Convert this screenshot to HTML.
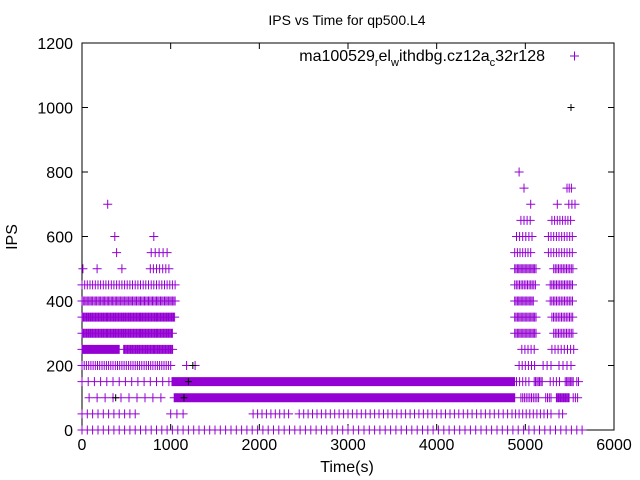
<!DOCTYPE html>
<html><head><meta charset="utf-8"><style>
body{margin:0;background:#fff}
svg{display:block;font-family:"Liberation Sans",sans-serif}
</style></head><body>
<svg id="chart" width="640" height="480" viewBox="0 0 640 480">
<rect x="0" y="0" width="640" height="480" fill="#fff"/>
<text x="347" y="25" font-size="14" text-anchor="middle">IPS vs Time for qp500.L4</text>
<text x="347" y="472" font-size="16" text-anchor="middle">Time(s)</text>
<text x="17" y="237" font-size="16" text-anchor="middle" transform="rotate(-90 17 237)">IPS</text>
<g id="axes"></g>
<g id="marks"></g>
<g>
<text x="545" y="61" font-size="16" text-anchor="end">ma100529<tspan font-size="11" dy="5">r</tspan><tspan dy="-5">el</tspan><tspan font-size="11" dy="5">w</tspan><tspan dy="-5">ithdbg.cz12a</tspan><tspan font-size="11" dy="5">c</tspan><tspan dy="-5">32r128</tspan></text>
<path d="M570 56h9M574.5 51.5v9" stroke="#9400d3" stroke-width="1"/>
</g>
</svg>
<script>
const xTicks=[0,1000,2000,3000,4000,5000,6000];
const yTicks=[0,200,400,600,800,1000,1200];
// per-level runs: [startTime, endTime, step]
const levels=[0,50,100,150,200,250,300,350,400,450,500,550,600,650,700,750,800];
const runs0=[[0,5650,60]];
const runs50=[[0,650,60],[1000,1200,70],[1930,2350,50],[2450,4850,50],[4850,5300,40],[5380,5450,40]];
const runs100=[[80,900,90],[1040,4885,8],[4950,5150,20],[5230,5300,20],[5350,5500,12],[5540,5600,25]];
const runs150=[[0,1000,70],[1015,4885,8],[4900,5050,35],[5100,5200,15],[5280,5400,35],[5450,5550,15],[5580,5600,20]];
const runs200=[[0,1000,25],[1180,1180,1],[1275,1275,1],[4930,5130,35],[5200,5330,45],[5380,5550,45]];
const runs250=[[0,420,10],[470,1030,12],[4960,5130,35],[5300,5550,35]];
const runs300=[[0,1030,12],[4880,5130,15],[5320,5550,18]];
const runs350=[[0,1050,12],[4880,5130,15],[5300,5550,18]];
const runs400=[[0,1050,15],[4880,5100,15],[5280,5540,18]];
const runs450=[[0,1050,30],[4880,5130,18],[5280,5540,18]];
const runs500=[[10,10,1],[170,170,1],[450,450,1],[770,1000,35],[4880,5130,15],[5320,5550,18]];
const runs550=[[390,390,1],[780,1000,45],[4880,5080,30],[5260,5550,30]];
const runs600=[[370,370,1],[810,810,1],[4900,5080,35],[5260,5550,30]];
const runs650=[[4950,5080,35],[5300,5530,30]];
const runs700=[[290,290,1],[5060,5060,1],[5360,5360,1],[5490,5560,35]];
const runs750=[[4985,4985,1],[5470,5520,25]];
const runs800=[[4930,4930,1]];
const levelRuns=[runs0,runs50,runs100,runs150,runs200,runs250,runs300,runs350,runs400,runs450,runs500,runs550,runs600,runs650,runs700,runs750,runs800];
const blackTimes=[5515,1200,1250,380,1150];
const blackValues=[1000,150,200,100,100];

const X0=82,X1=614,Y0=430,Y1=43;
const xs=t=>X0+(t/6000)*(X1-X0);
const ys=v=>Y0-(v/1200)*(Y0-Y1);
const NS="http://www.w3.org/2000/svg";
const axes=document.getElementById('axes');
const marks=document.getElementById('marks');

const frame=document.createElementNS(NS,'rect');
frame.setAttribute('x',X0);frame.setAttribute('y',Y1);
frame.setAttribute('width',X1-X0);frame.setAttribute('height',Y0-Y1);
frame.setAttribute('fill','none');frame.setAttribute('stroke','#000');


axes.appendChild(frame);

let td='';
xTicks.forEach(t=>{const x=xs(t);td+=`M${x} ${Y0}v-6M${x} ${Y1}v6`;
 const tx=document.createElementNS(NS,'text');
 tx.setAttribute('x',x);tx.setAttribute('y',Y0+20);tx.setAttribute('font-size','16');tx.setAttribute('text-anchor','middle');
 tx.textContent=t;
 
 
 axes.appendChild(tx);});
yTicks.forEach(v=>{const y=ys(v);td+=`M${X0} ${y}h6M${X1} ${y}h-6`;
 const tx=document.createElementNS(NS,'text');
 tx.setAttribute('x',X0-9);tx.setAttribute('y',y+6);tx.setAttribute('font-size','16');tx.setAttribute('text-anchor','end');
 tx.textContent=v;
 
 
 axes.appendChild(tx);});
const tp=document.createElementNS(NS,'path');
tp.setAttribute('d',td);tp.setAttribute('stroke','#000');tp.setAttribute('fill','none');


axes.appendChild(tp);

let d='';
levels.forEach((v,i)=>{const y=ys(v);
 levelRuns[i].forEach(r=>{for(let t=r[0];t<=r[1];t+=(r[2]||1)){const x=xs(t);d+=`M${(x-4.5).toFixed(1)} ${y.toFixed(1)}h9M${x.toFixed(1)} ${(y-4.5).toFixed(1)}v9`;}});});
const p=document.createElementNS(NS,'path');
p.setAttribute('d',d);p.setAttribute('stroke','#9400d3');p.setAttribute('fill','none');p.setAttribute('stroke-width','1');


marks.appendChild(p);

let bd='';
blackTimes.forEach((t,i)=>{const x=xs(t),y=ys(blackValues[i]);bd+=`M${x-3.5} ${y}h7M${x} ${y-3.5}v7`;});
const bp=document.createElementNS(NS,'path');
bp.setAttribute('d',bd);bp.setAttribute('stroke','#000');bp.setAttribute('fill','none');


marks.appendChild(bp);
</script>
</body></html>
